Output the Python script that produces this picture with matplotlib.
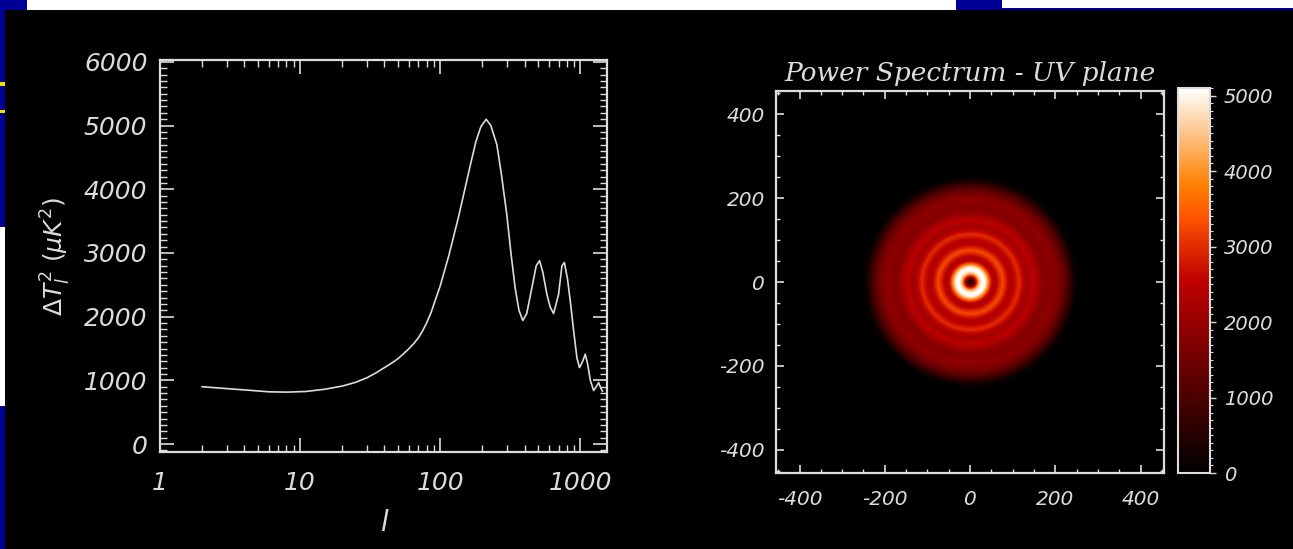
import numpy as np
import matplotlib
matplotlib.use("Agg")
import matplotlib.pyplot as plt
from matplotlib.patches import Rectangle
from matplotlib.ticker import MultipleLocator, LogLocator, FuncFormatter, NullFormatter

# CMB ANGULAR POWER SPECTRUM + ITS UV-PLANE IMAGE
# DATA --------------------------------------------------------

ell = [2, 3, 4, 6, 8, 11, 15, 20, 25, 30, 35, 40, 45, 50, 55, 60, 65, 70,
       75, 80, 86, 92, 100, 115, 135, 150, 165, 180, 195, 213, 230, 254,
       275, 299, 320, 343, 365, 389, 415, 452, 485, 512, 540, 578, 610,
       645, 700, 740, 770, 810, 848, 900, 947, 988, 1040, 1086, 1130, 1180,
       1245, 1300, 1352, 1400, 1440]
dT2 = [900, 870, 850, 820, 815, 825, 860, 910, 970, 1040, 1120, 1200, 1270,
       1340, 1420, 1500, 1580, 1670, 1780, 1900, 2060, 2250, 2480, 2950,
       3560, 4000, 4400, 4750, 4980, 5100, 5000, 4700, 4200, 3600, 3000,
       2450, 2100, 1940, 2050, 2460, 2800, 2880, 2700, 2350, 2150, 2050,
       2350, 2800, 2850, 2600, 2250, 1750, 1350, 1200, 1300, 1410, 1250,
       1000, 840, 900, 965, 880, 830]

# radial brightness profile of the UV-plane image (radius in uv units)
uv_radius = [0, 6, 12, 20, 27, 35, 42, 50, 58, 68, 76, 84, 94, 104, 114,
             124, 134, 146, 158, 170, 182, 194, 206, 218, 228, 238, 246,
             255, 700]
uv_power = [400, 800, 2200, 4400, 5100, 5000, 3800, 2500, 2300, 2900, 3300,
            2800, 2300, 2600, 3000, 2500, 2100, 2500, 2200, 1800, 1800, 1900,
            1750, 1400, 1000, 500, 150, 0, 0]

x_ticks = [1, 10, 100, 1000]
uv_ticks = [-400, -200, 0, 200, 400]
cb_ticks = [0, 1000, 2000, 3000, 4000, 5000]

W, H = 1293, 549
fg = "#dcdcdc"
blue = "#000096"
plt.rcParams["axes.unicode_minus"] = False

fig = plt.figure(figsize=(W / 100, H / 100), dpi=100, facecolor="black")


def px_rect(x, y, w, h, c):  # screenshot border bits, pixel coords from top-left
    fig.add_artist(Rectangle((x / W, 1 - (y + h) / H), w / W, h / H,
                             transform=fig.transFigure, color=c, lw=0, zorder=5))


# border of the original screenshot
px_rect(0, 0, 27, 10, blue)
px_rect(27, 0, 929, 10, "white")
px_rect(956, 0, 46, 10, blue)
px_rect(1002, 0, 291, 8, "white")
px_rect(1002, 8, 291, 2, blue)
px_rect(0, 0, 5, 549, blue)
px_rect(0, 227, 5, 179, "white")
px_rect(0, 82, 5, 4, "#f0e000")
px_rect(0, 110, 5, 3, "#f0e000")

# LEFT: power spectrum ------------------------------------------
ax1 = fig.add_axes([0.1237, 0.1767, 0.3457, 0.714], facecolor="black")
ax1.plot(ell, dT2, color=fg, lw=1.2)
ax1.set_xscale("log")
ax1.set_xlim(1, 1550)
ax1.set_ylim(-125, 6030)
ax1.xaxis.set_major_locator(LogLocator(base=10))
ax1.xaxis.set_minor_locator(LogLocator(base=10, subs=np.arange(2, 10)))
ax1.xaxis.set_minor_formatter(NullFormatter())
ax1.set_xticks(x_ticks)
ax1.xaxis.set_major_formatter(FuncFormatter(lambda v, p: f"{v:g}"))
ax1.yaxis.set_major_locator(MultipleLocator(1000))
ax1.yaxis.set_minor_locator(MultipleLocator(100))
ax1.tick_params(which="both", direction="in", top=True, right=True,
                colors=fg, labelsize=18)
ax1.tick_params(which="major", length=10, width=1.2)
ax1.tick_params(which="minor", length=5, width=1.0)
ax1.tick_params(axis="x", pad=14)
ax1.tick_params(axis="y", pad=9)
for s in ax1.spines.values():
    s.set_color(fg)
    s.set_linewidth(1.6)
for t in ax1.get_xticklabels() + ax1.get_yticklabels():
    t.set_fontstyle("italic")
ax1.set_xlabel("l", color=fg, fontsize=20, fontstyle="italic", labelpad=10)
ax1.set_ylabel(r"$\Delta T_l^2\ (\mu K^2)$", color=fg, fontsize=18, labelpad=8)

# RIGHT: UV plane image ------------------------------------------
ax2 = fig.add_axes([0.6002, 0.1384, 0.3001, 0.6958], facecolor="black")
grid = np.linspace(-455, 455, 300)
X, Y = np.meshgrid(grid, grid)
img = np.interp(np.hypot(X, Y), uv_radius, uv_power)
im = ax2.imshow(img, cmap="gist_heat", vmin=0, vmax=5100, origin="lower",
                extent=[-455, 455, -455, 455], interpolation="bilinear",
                aspect="auto")
ax2.set_xticks(uv_ticks)
ax2.set_yticks(uv_ticks)
ax2.xaxis.set_minor_locator(MultipleLocator(50))
ax2.yaxis.set_minor_locator(MultipleLocator(50))
ax2.tick_params(which="both", direction="in", top=True, right=True,
                colors=fg, labelsize=14.5)
ax2.tick_params(which="major", length=6, width=1.2)
ax2.tick_params(which="minor", length=3, width=1.0)
ax2.tick_params(axis="x", pad=12)
ax2.tick_params(axis="y", pad=8)
for s in ax2.spines.values():
    s.set_color(fg)
    s.set_linewidth(1.6)
for t in ax2.get_xticklabels() + ax2.get_yticklabels():
    t.set_fontstyle("italic")
ax2.set_title("Power Spectrum - UV plane", color=fg, fontsize=19,
              family="DejaVu Serif", fontstyle="italic", pad=7)

cax = fig.add_axes([0.9111, 0.1384, 0.0247, 0.7013])
cb = fig.colorbar(im, cax=cax, ticks=cb_ticks)
cb.ax.yaxis.set_minor_locator(MultipleLocator(100))
cb.ax.tick_params(which="both", direction="out", colors=fg, labelsize=14)
cb.ax.tick_params(which="major", length=4, width=1.0, pad=6)
cb.ax.tick_params(which="minor", length=2, width=0.8)
cb.outline.set_edgecolor(fg)
cb.outline.set_linewidth(1.5)
for t in cb.ax.get_yticklabels():
    t.set_fontstyle("italic")

fig.savefig("out.png", dpi=100, facecolor="black")
